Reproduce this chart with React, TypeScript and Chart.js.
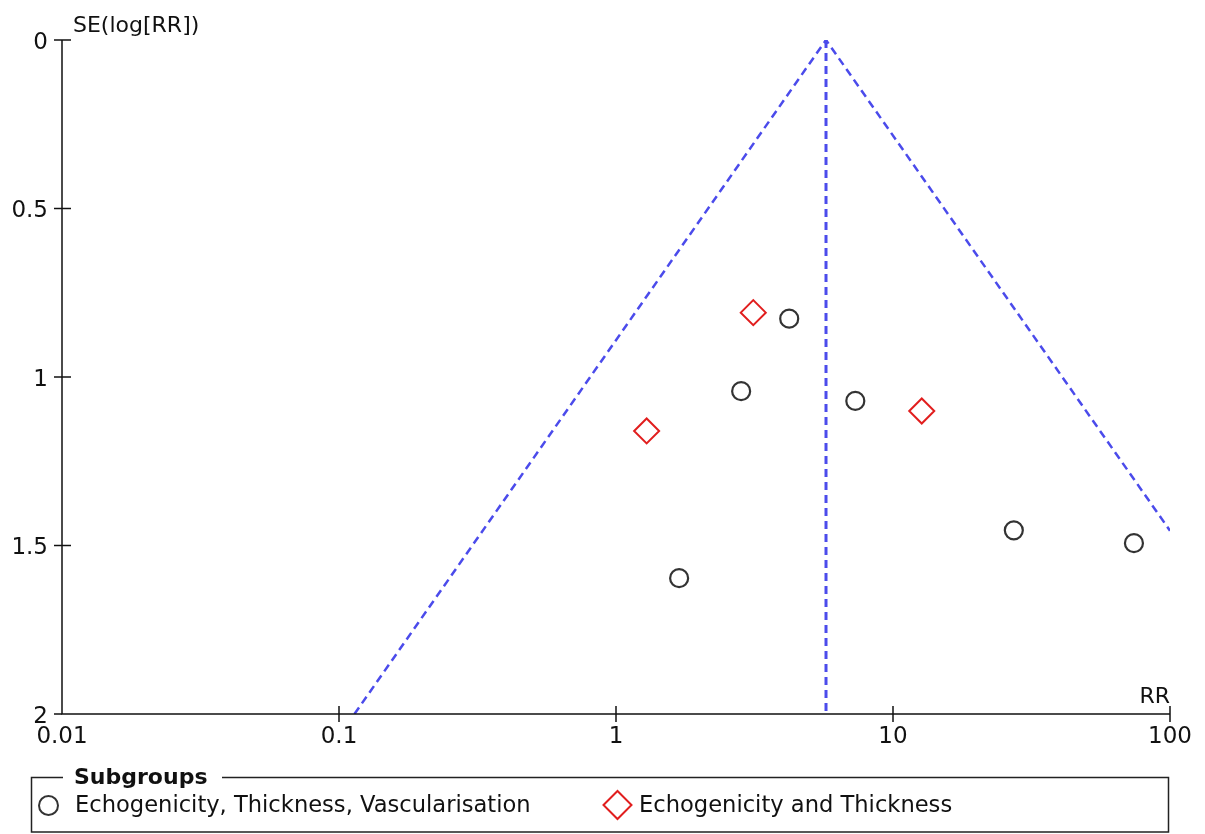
import React, { useEffect, useRef } from 'react';
import { Chart, registerables } from 'chart.js';

Chart.register(...registerables);

const groupAName = 'Echogenicity, Thickness, Vascularisation';
const groupBName = 'Echogenicity and Thickness';
const legendTitle = 'Subgroups';
const xAxisTitle = 'RR';
const yAxisTitle = 'SE(log[RR])';

const groupARR = [4.22, 2.83, 7.31, 1.69, 27.3, 74.1];
const groupASE = [0.827, 1.042, 1.071, 1.597, 1.455, 1.493];
const groupBRR = [3.13, 1.29, 12.7];
const groupBSE = [0.809, 1.16, 1.101];

const pooledRR = 5.73;
const funnelRR = [0.1137, 5.73, 100];
const funnelSE = [2, 0, 1.456];

const xTicks = [0.01, 0.1, 1, 10, 100];
const xTickLabels = ['0.01', '0.1', '1', '10', '100'];
const yTicks = [0, 0.5, 1, 1.5, 2];
const yTickLabels = ['0', '0.5', '1', '1.5', '2'];

const FONT = '"DejaVu Sans", "Liberation Sans", sans-serif';
const BLUE = 'rgb(75, 75, 235)';
const RED = 'rgb(225, 30, 30)';
const DARK = '#333333';

const axesPlugin = {
  id: 'funnelAxes',
  afterDraw(chart: any) {
    const ctx: CanvasRenderingContext2D = chart.ctx;
    const xs = chart.scales.x;
    const ys = chart.scales.y;
    const left = xs.getPixelForValue(xTicks[0]);
    const right = xs.getPixelForValue(xTicks[xTicks.length - 1]);
    const top = ys.getPixelForValue(yTicks[0]);
    const bottom = ys.getPixelForValue(yTicks[yTicks.length - 1]);
    ctx.save();
    ctx.strokeStyle = '#111';
    ctx.fillStyle = '#111';
    ctx.lineWidth = 1.5;
    ctx.beginPath();
    ctx.moveTo(left, top);
    ctx.lineTo(left, bottom);
    ctx.lineTo(right, bottom);
    ctx.stroke();
    ctx.font = `23px ${FONT}`;
    // y ticks
    yTicks.forEach((v, i) => {
      const py = ys.getPixelForValue(v);
      ctx.beginPath();
      ctx.moveTo(left - 8, py);
      ctx.lineTo(left + (i === yTicks.length - 1 ? 0 : 9), py);
      ctx.stroke();
      ctx.textAlign = 'right';
      ctx.textBaseline = 'alphabetic';
      ctx.fillText(yTickLabels[i], left - 14, py + 8.5);
    });
    // x ticks
    xTicks.forEach((v, i) => {
      const px = xs.getPixelForValue(v);
      if (i > 0) {
        ctx.beginPath();
        ctx.moveTo(px, bottom - 8);
        ctx.lineTo(px, bottom + 8);
        ctx.stroke();
      }
      ctx.textAlign = 'center';
      ctx.textBaseline = 'alphabetic';
      ctx.fillText(xTickLabels[i], px, bottom + 29);
    });
    // axis titles
    ctx.font = `22px ${FONT}`;
    ctx.textAlign = 'left';
    ctx.fillText(yAxisTitle, left + 11, top - 8);
    ctx.textAlign = 'right';
    ctx.fillText(xAxisTitle, right, bottom - 11);

    // legend box
    const bx0 = 31.5, bx1 = right - 1.5, by0 = 777.5, by1 = 832;
    ctx.lineWidth = 1.5;
    ctx.strokeStyle = '#222';
    ctx.beginPath();
    ctx.moveTo(63, by0);
    ctx.lineTo(bx0, by0);
    ctx.lineTo(bx0, by1);
    ctx.lineTo(bx1, by1);
    ctx.lineTo(bx1, by0);
    ctx.lineTo(222, by0);
    ctx.stroke();
    ctx.font = `bold 22px ${FONT}`;
    ctx.textAlign = 'left';
    ctx.fillText(legendTitle, 74, 784);
    ctx.font = `22.6px ${FONT}`;
    ctx.fillText(groupAName, 75, 812);
    ctx.fillText(groupBName, 639, 812);
    // legend markers
    ctx.lineWidth = 2;
    ctx.strokeStyle = DARK;
    ctx.beginPath();
    ctx.arc(48.5, 805.5, 9.5, 0, Math.PI * 2);
    ctx.stroke();
    ctx.strokeStyle = RED;
    ctx.beginPath();
    ctx.moveTo(617.5 - 14, 805);
    ctx.lineTo(617.5, 805 - 14);
    ctx.lineTo(617.5 + 14, 805);
    ctx.lineTo(617.5, 805 + 14);
    ctx.closePath();
    ctx.stroke();
    ctx.restore();
  },
};

export default function App() {
  const ref = useRef<HTMLCanvasElement | null>(null);
  useEffect(() => {
    document.body.style.margin = '0';
    if (!ref.current) return;
    const chart = new Chart(ref.current, {
      type: 'scatter',
      data: {
        datasets: [
          {
            label: 'funnel',
            data: funnelRR.map((x, i) => ({ x, y: funnelSE[i] })),
            showLine: true,
            borderColor: BLUE,
            borderWidth: 2.5,
            borderDash: [8, 5],
            pointRadius: 0,
            fill: false,
          },
          {
            label: 'pooled',
            data: [
              { x: pooledRR, y: yTicks[0] },
              { x: pooledRR, y: yTicks[yTicks.length - 1] },
            ],
            showLine: true,
            borderColor: BLUE,
            borderWidth: 3,
            borderDash: [8, 5],
            pointRadius: 0,
            fill: false,
          },
          {
            label: groupAName,
            data: groupARR.map((x, i) => ({ x, y: groupASE[i] })),
            pointStyle: 'circle',
            pointRadius: 9,
            borderWidth: 2.2,
            borderColor: DARK,
            backgroundColor: 'rgba(0,0,0,0)',
          },
          {
            label: groupBName,
            data: groupBRR.map((x, i) => ({ x, y: groupBSE[i] })),
            pointStyle: 'rectRot',
            pointRadius: 12.5,
            borderWidth: 2,
            borderColor: RED,
            backgroundColor: 'rgba(0,0,0,0)',
          },
        ],
      },
      options: {
        animation: false,
        responsive: false,
        devicePixelRatio: 1,
        layout: { padding: { left: 62, right: 35, top: 40, bottom: 120 } },
        plugins: { legend: { display: false }, tooltip: { enabled: false } },
        scales: {
          x: { type: 'logarithmic', min: 0.01, max: 100, display: false },
          y: { type: 'linear', min: 0, max: 2, reverse: true, display: false },
        },
      },
      plugins: [axesPlugin],
    });
    return () => chart.destroy();
  }, []);
  return (
    <canvas ref={ref} width={1205} height={834} style={{ display: 'block', width: 1205, height: 834 }} />
  );
}
